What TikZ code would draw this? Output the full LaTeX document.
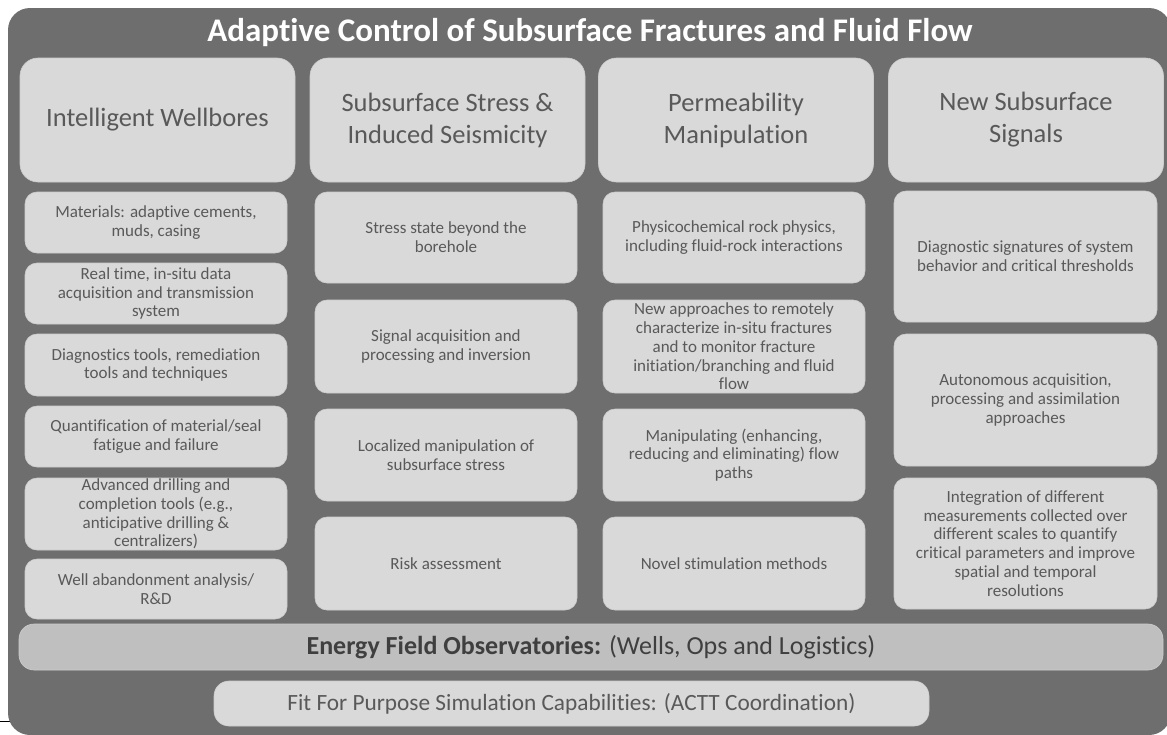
\documentclass[tikz,border=0pt]{standalone}
\usepackage{fontspec}
\setmainfont{Carlito}[Ligatures={NoCommon}]
\definecolor{outerc}{HTML}{6E6E6E}
\definecolor{lightc}{HTML}{D9D9D9}
\definecolor{barc}{HTML}{BFBFBF}
\definecolor{edgec}{HTML}{CDCDCD}
\definecolor{textc}{HTML}{595959}
\definecolor{darktext}{HTML}{3F3F3F}
\tikzset{
  headbox/.style={rectangle, rounded corners=18, fill=lightc, draw=edgec, line width=0.6,
    text=textc, align=center, inner sep=0, minimum width=275, minimum height=124,
    font=\fontsize{26.5}{32}\selectfont},
  subbox/.style={rectangle, rounded corners=12, fill=lightc, draw=edgec, line width=0.6,
    text=textc, align=center, inner sep=0,
    font=\fontsize{17}{18.8}\selectfont},
  barbox/.style={rectangle, rounded corners=15, draw=edgec, line width=0.6, inner sep=0}
}
\begin{document}
\begin{tikzpicture}[x=1pt,y=-1pt]
\useasboundingbox (0,0) rectangle (1167,734);
\draw[black, line width=0.8] (0,721) -- (12,721);
\begin{scope}
\clip (0,0) rectangle (1167,734);
\fill[outerc, rounded corners=22] (8,8) rectangle (1171,735);
\end{scope}
\node[text=white, font=\fontsize{33}{36}\selectfont\bfseries] (title) at (590,33) {Adaptive Control of Subsurface Fractures and Fluid Flow};

% headers
\node[headbox] (h1) at (157.5,120) {Intelligent Wellbores};
\node[headbox] (h2) at (447.5,120) {Subsurface Stress \&\\Induced Seismicity};
\node[headbox] (h3) at (736,120) {Permeability\\Manipulation};
\node[headbox] (h4) at (1026,120) {New Subsurface\\Signals};

% column 1
\node[subbox, minimum width=262, minimum height=61] (a1) at (156,222.5) {Materials: adaptive cements,\\muds, casing};
\node[subbox, minimum width=262, minimum height=61] (a2) at (156,293.5) {Real time,  in-situ data\\acquisition and transmission\\system};
\node[subbox, minimum width=262, minimum height=62] (a3) at (156,365) {Diagnostics tools, remediation\\tools and techniques};
\node[subbox, minimum width=262, minimum height=61] (a4) at (156,436.5) {Quantification of material/seal\\fatigue and failure};
\node[subbox, minimum width=262, minimum height=72] (a5) at (156,514) {Advanced drilling and\\completion tools (e.g.,\\anticipative drilling \&\\centralizers)};
\node[subbox, minimum width=262, minimum height=60] (a6) at (156,589) {Well abandonment analysis/\\R\&D};

% column 2
\node[subbox, minimum width=262, minimum height=91] (b1) at (446,237.5) {Stress state beyond the\\borehole};
\node[subbox, minimum width=262, minimum height=93] (b2) at (446,346.5) {Signal acquisition and\\processing and inversion};
\node[subbox, minimum width=262, minimum height=92] (b3) at (446,455) {Localized manipulation of\\subsurface stress};
\node[subbox, minimum width=262, minimum height=93] (b4) at (446,563.5) {Risk assessment};

% column 3
\node[subbox, minimum width=262, minimum height=91] (c1) at (734,237.5) {Physicochemical rock physics,\\including fluid-rock interactions};
\node[subbox, minimum width=262, minimum height=93] (c2) at (734,346.5) {New approaches to remotely\\characterize in-situ fractures\\and to monitor fracture\\initiation/branching and fluid\\flow};
\node[subbox, minimum width=262, minimum height=92] (c3) at (734,455) {Manipulating (enhancing,\\reducing and eliminating) flow\\paths};
\node[subbox, minimum width=262, minimum height=93] (c4) at (734,563.5) {Novel stimulation methods};

% column 4
\node[subbox, minimum width=263, minimum height=131] (d1) at (1025.5,256.5) {Diagnostic signatures of system\\behavior and critical thresholds};
\node[subbox, minimum width=263, minimum height=132] (d2) at (1025.5,400) {Autonomous acquisition,\\processing and assimilation\\approaches};
\node[subbox, minimum width=263, minimum height=131] (d3) at (1025.5,543.5) {Integration of different\\measurements collected over\\different scales to quantify\\critical parameters and improve\\spatial and temporal\\resolutions};

% bars
\node[barbox, fill=barc, minimum width=1144, minimum height=46, text=darktext,
  font=\fontsize{26}{28}\selectfont] (energy) at (591,647) {\textbf{Energy Field Observatories:} (Wells, Ops and Logistics)};
\node[barbox, fill=lightc, minimum width=715, minimum height=45, text=textc,
  font=\fontsize{23.3}{26}\selectfont] (fit) at (571.5,703.5) {Fit For Purpose Simulation Capabilities: (ACTT Coordination)};
\end{tikzpicture}
\end{document}
